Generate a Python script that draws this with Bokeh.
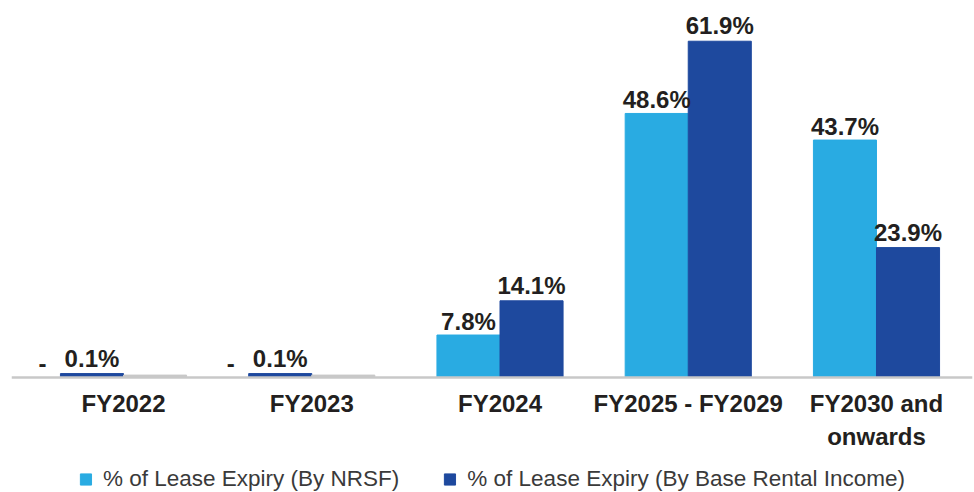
from bokeh.plotting import figure
from bokeh.models import (ColumnDataSource, Legend, LegendItem, FixedTicker, Range1d,
                          LinearAxis)
from bokeh.embed import file_html
from bokeh.resources import INLINE
from bokeh.core.properties import value

# ---- data ----
categories = ["FY2022", "FY2023", "FY2024", "FY2025 - FY2029", "FY2030 and\nonwards"]
nrsf = [None, None, 7.8, 48.6, 43.7]            # None shown as "-"
base_rental = [0.1, 0.1, 14.1, 61.9, 23.9]
series_names = ["% of Lease Expiry (By NRSF)", "% of Lease Expiry (By Base Rental Income)"]

LIGHT = "#29abe2"
DARK = "#1e499e"
TEXT = "#231f20"
AXIS = "#c8c8c8"
FONT = "Liberation Sans"
BW = 0.335          # bar width (category units)
MIN_H = 0.7         # minimum visible bar height

light = dict(x=[], top=[], lbl=[])
dark = dict(x=[], top=[], lbl=[], val=[])
stub = dict(x=[], top=[])
dash = dict(x=[], y=[], lbl=[])
for i, (a, b) in enumerate(zip(nrsf, base_rental)):
    if a is None:
        dx = i - BW / 2
        stub["x"].append(i + BW / 2)
        stub["top"].append(MIN_H * 0.6)
        dash["x"].append(i - 0.43)
        dash["y"].append(max(b, MIN_H))
        dash["lbl"].append("-")
    else:
        light["x"].append(i - BW / 2)
        light["top"].append(a)
        light["lbl"].append(f"{a:.1f}%")
        dx = i + BW / 2
    dark["x"].append(dx)
    dark["top"].append(max(b, MIN_H))
    dark["val"].append(b)
    dark["lbl"].append(f"{b:.1f}%")

p = figure(width=974, height=492, output_backend="svg", toolbar_location=None,
           x_range=Range1d(-0.595, 4.51), y_range=Range1d(-21.2, 69.4),
           x_axis_location=None, y_axis_location=None,
           min_border_left=11, min_border_right=2, min_border_top=0,
           min_border_bottom=0)
p.outline_line_color = None
p.grid.visible = False

src_l = ColumnDataSource(light)
src_d = ColumnDataSource(dark)
src_s = ColumnDataSource(stub)
src_dash = ColumnDataSource(dash)

r_l = p.vbar(x="x", top="top", width=BW, source=src_l, color=LIGHT)
r_d = p.vbar(x="x", top="top", width=BW, source=src_d, color=DARK)
p.vbar(x="x", top="top", width=BW, source=src_s, color=AXIS)

common = dict(text_font=value(FONT), text_font_style="bold", text_font_size="24px",
              text_color=TEXT, text_align="center", text_baseline="bottom")
p.text(x="x", y="top", text="lbl", source=src_l, **common)
p.text(x="x", y="top", text="lbl", source=src_d, y_offset=-2, **common)
p.text(x="x", y="y", text="lbl", source=src_dash, y_offset=-2, **common)

xa = LinearAxis(fixed_location=0)
xa.ticker = FixedTicker(ticks=list(range(len(categories))))
xa.major_label_overrides = {i: c for i, c in enumerate(categories)}
xa.major_tick_line_color = None
xa.minor_tick_line_color = None
xa.axis_line_color = AXIS
xa.axis_line_width = 2.5
xa.major_label_standoff = 7
xa.major_label_text_font = FONT
xa.major_label_text_font_style = "bold"
xa.major_label_text_font_size = "24px"
xa.major_label_text_color = TEXT
p.add_layout(xa, "below")

legend = Legend(items=[LegendItem(label=series_names[0], renderers=[r_l]),
                       LegendItem(label=series_names[1], renderers=[r_d])],
                orientation="horizontal", location="bottom_center",
                padding=0, margin=0, spacing=43, label_standoff=11,
                glyph_width=14, glyph_height=14,
                label_text_font=FONT, label_text_font_size="22.5px",
                label_text_color="#3a3a3a",
                border_line_color=None, background_fill_alpha=0)
p.add_layout(legend, "center")

open("out.html", "w").write(file_html(p, INLINE))
